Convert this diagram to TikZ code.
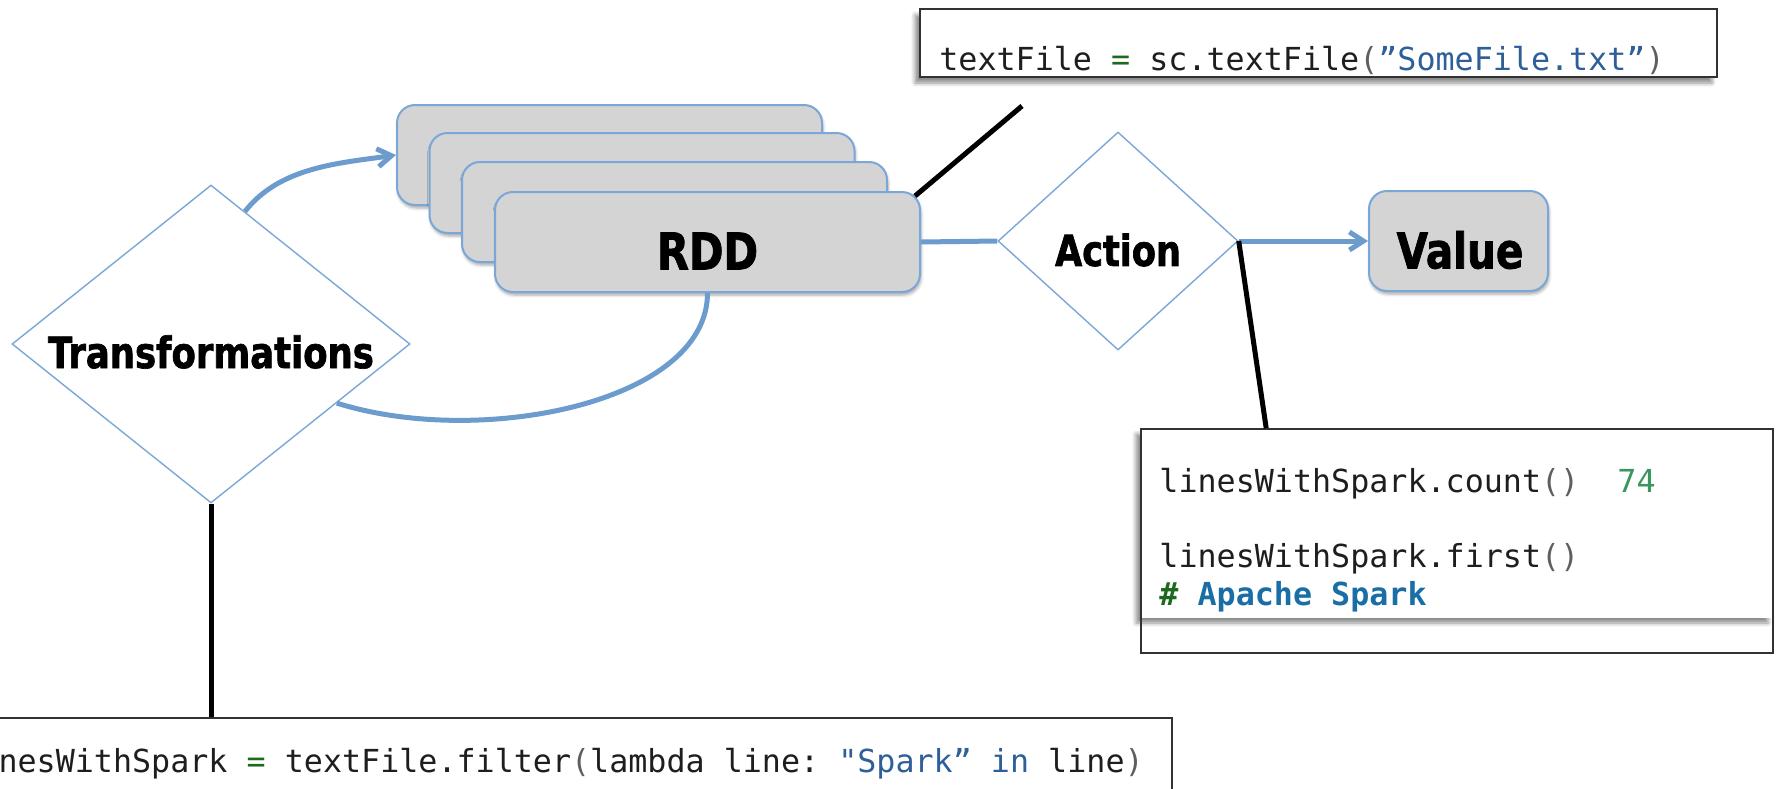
\documentclass[tikz,border=0pt]{standalone}
\usepackage{fontspec}
\setmonofont{DejaVu Sans Mono}
\newfontfamily\hfont[FakeStretch=0.82,BoldFeatures={FakeBold=1.5}]{DejaVu Sans}
\usetikzlibrary{shapes.geometric,arrows.meta,shadows.blur,calc}
\definecolor{bline}{RGB}{108,155,205}
\definecolor{bborder}{RGB}{122,167,215}
\definecolor{boxfill}{RGB}{212,212,212}
\definecolor{cg}{RGB}{30,105,30}
\definecolor{cs}{RGB}{46,95,152}
\definecolor{cp}{RGB}{95,95,95}
\definecolor{cn}{RGB}{56,150,95}
\definecolor{ca}{RGB}{25,110,165}
\definecolor{ct}{RGB}{30,30,30}
\definecolor{frame}{RGB}{50,50,50}
\tikzset{
  rddbox/.style={draw=bborder, fill=boxfill, line width=1pt, rounded corners=9pt,
    minimum width=212.5pt, minimum height=50pt, inner sep=0pt,
    blur shadow={shadow xshift=0.5pt, shadow yshift=-1.5pt, shadow blur radius=1.5pt, shadow opacity=35}},
  dia/.style={shape=diamond, draw=bborder, fill=white, line width=0.7pt, inner sep=0pt},
  lbl/.style={inner sep=0pt, text=black},
  bluel/.style={draw=bline, line width=2.5pt},
  arr/.style={-{Straight Barb[length=7pt,width=9pt]}},
  blk/.style={draw=black, line width=2.5pt},
  code/.style={anchor=base west, inner sep=0pt, text=ct,
    font=\ttfamily\fontsize{15.85pt}{19pt}\selectfont},
}
\begin{document}
\begin{tikzpicture}[x=0.5pt,y=-0.5pt]
\useasboundingbox (0,0) rectangle (1781,788);
\clip (0,0) rectangle (1781,788);

% RDD stack
\node[rddbox] (r1) at (609.5,155) {};
\node[rddbox] (r2) at (642,183) {};
\node[rddbox] (r3) at (674.5,212) {};
\node[rddbox] (r4) at (707.5,242) {};
\node[lbl, font=\hfont\bfseries\fontsize{25.4pt}{30pt}\selectfont] (rddT) at (707.5,251) {RDD};

% Value box
\node[rddbox, minimum width=89.5pt, minimum height=50pt] (val) at (1458.5,241) {};
\node[lbl, font=\hfont\bfseries\fontsize{24.7pt}{30pt}\selectfont] (valT) at (1460,250) {Value};

% diamonds
\node[dia, minimum width=199pt, minimum height=159pt] (tr) at (211,344) {};
\node[lbl, font=\hfont\bfseries\fontsize{21.6pt}{26pt}\selectfont] (trT) at (211,352) {Transformations};
\node[dia, minimum width=120pt, minimum height=109pt] (ac) at (1118,241) {};
\node[lbl, font=\hfont\bfseries\fontsize{21.4pt}{25pt}\selectfont] (acT) at (1118,250) {Action};

% blue connectors
\draw[bluel] (r4.east) -- (ac.west);
\draw[bluel, arr] (ac.east) -- (val.west);
\draw[bluel, arr] ($(tr.north)!0.17!(tr.east)$) .. controls +(35,-45) and +(-55,8) .. (r1.west);
\draw[bluel] (r4.south) .. controls +(0,110) and +(143,45) .. ($(tr.east)!0.37!(tr.south)$);

% textFile code box
\node[draw=frame, fill=white, line width=0.8pt, minimum width=398.5pt, minimum height=34pt, inner sep=0pt,
  blur shadow={shadow xshift=-2.5pt, shadow yshift=-3pt, shadow blur radius=2pt, shadow opacity=45}] (tf) at (1318.5,43) {};
\node[code] (tfT) at (939,70) {textFile {\color{cg}=} sc.textFile{\color{cp}(}{\color{cs}”SomeFile.txt”}{\color{cp})}};

% action code box
\node[fill=white, minimum width=316pt, minimum height=94.5pt, inner sep=0pt,
  blur shadow={shadow xshift=-2.5pt, shadow yshift=-2.5pt, shadow blur radius=2pt, shadow opacity=45}] (ab) at (1457,523.5) {};
\node[draw=frame, line width=0.8pt, minimum width=316pt, minimum height=112pt, inner sep=0pt] (abo) at (1457,541) {};
\node[code] (ab1) at (1159,492) {linesWithSpark.count{\color{cp}()}\ \ {\color{cn}74}};
\node[code] (ab2) at (1159,567) {linesWithSpark.first{\color{cp}()}};
\node[code, font=\ttfamily\bfseries\fontsize{15.85pt}{19pt}\selectfont] (ab3) at (1159,605) {{\color{cg}\#} {\color{ca}Apache Spark}};

% bottom code box
\node[draw=frame, line width=0.8pt, minimum width=596pt, minimum height=56pt, inner sep=0pt] (bx) at (576,774) {};
\node[code] (bxT) at (-40,772) {linesWithSpark {\color{cg}=} textFile.filter{\color{cp}(}lambda line: {\color{cs}"Spark”} {\color{cs}in} line{\color{cp})}};

% black callout lines
\coordinate (tfend) at (1022,106);
\draw[blk] (tfend) -- ([xshift=-3pt,yshift=-2.5pt]r4.north east);
\draw[blk] (ac.east) -- ($(abo.north west)+(126,0)$);
\draw[blk] (tr.south) -- (bx.north -| tr.south);
\end{tikzpicture}
\end{document}
